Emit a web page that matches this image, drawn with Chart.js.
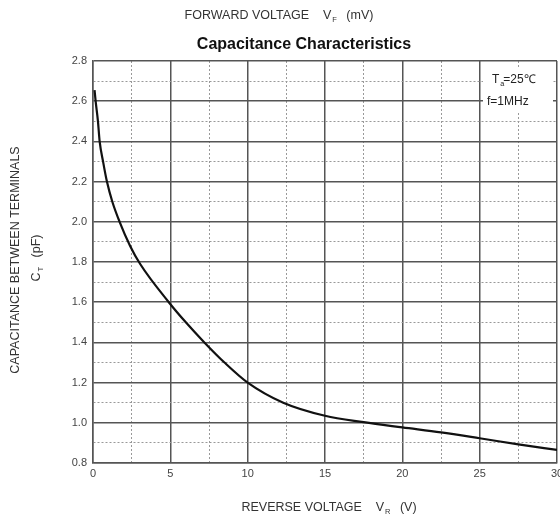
<!DOCTYPE html>
<html>
<head>
<meta charset="utf-8">
<script src="https://cdn.jsdelivr.net/npm/chart.js@4/dist/chart.umd.min.js"></script>
<style>
  html, body { margin: 0; padding: 0; background: #fff; }
  #wrap { width: 560px; height: 523px; position: relative; }
</style>
</head>
<body>
<div id="wrap"><canvas id="chart"></canvas></div>
<script>
// reverse voltage (V) vs capacitance (pF)
const reverseVoltage = [0.1, 0.17, 0.32, 0.43, 0.65, 0.9, 1.25, 1.72, 2.4, 3.05, 4.9, 6.0, 7.2, 8.5, 10, 12.3, 15, 17.5, 20, 22.5, 25, 27.5, 30];
const capacitance = [2.655, 2.6, 2.5, 2.4, 2.3, 2.2, 2.1, 2.0, 1.88, 1.79, 1.6, 1.5, 1.4, 1.3, 1.2, 1.1, 1.035, 1.003, 0.977, 0.952, 0.923, 0.893, 0.865];

const xMajorTicks = [0, 5, 10, 15, 20, 25, 30];
const yMajorTicks = [0.8, 1.0, 1.2, 1.4, 1.6, 1.8, 2.0, 2.2, 2.4, 2.6, 2.8];

const titleText = "Capacitance Characteristics";
const topAxisText = ["FORWARD VOLTAGE    V", "F", "   (mV)"];
const bottomAxisText = ["REVERSE VOLTAGE    V", "R", "   (V)"];
const yTitleText = "CAPACITANCE BETWEEN TERMINALS";
const yUnitText = ["C", "T", "   (pF)"];
const noteLines = [["T", "a", "=25\u2103"], ["f=1MHz", "", ""]];

const FONT = "'Liberation Sans', Arial, sans-serif";

const isMajor = (v, list) => list.some(m => Math.abs(m - v) < 1e-6);

// text with a small subscript in the middle
function subText(ctx, parts, x, y, size, align) {
  ctx.font = size + "px " + FONT;
  const w0 = ctx.measureText(parts[0]).width;
  ctx.font = (size * 0.6) + "px " + FONT;
  const w1 = ctx.measureText(parts[1]).width;
  ctx.font = size + "px " + FONT;
  const w2 = ctx.measureText(parts[2]).width;
  const total = w0 + w1 + w2;
  let sx = align === "center" ? x - total / 2 : x;
  ctx.textAlign = "left";
  ctx.textBaseline = "middle";
  ctx.fillText(parts[0], sx, y);
  ctx.font = (size * 0.6) + "px " + FONT;
  ctx.fillText(parts[1], sx + w0 + 1, y + size * 0.35);
  ctx.font = size + "px " + FONT;
  ctx.fillText(parts[2], sx + w0 + w1, y);
}

const labelsPlugin = {
  id: "labels",
  beforeDatasetsDraw(chart) {
    // white box behind the conditions note
    const ctx = chart.ctx;
    ctx.save();
    ctx.fillStyle = "#fff";
    ctx.fillRect(483, 69, 70, 43);
    ctx.restore();
  },
  afterDraw(chart) {
    const ctx = chart.ctx;
    ctx.save();
    ctx.fillStyle = "#333";
    subText(ctx, topAxisText, 279, 16, 12.5, "center");
    subText(ctx, bottomAxisText, 329, 508, 12.5, "center");

    ctx.fillStyle = "#111";
    ctx.font = "bold 16px " + FONT;
    ctx.textAlign = "center";
    ctx.textBaseline = "middle";
    ctx.fillText(titleText, 304, 45);

    ctx.fillStyle = "#333";
    ctx.save();
    ctx.translate(16, 260);
    ctx.rotate(-Math.PI / 2);
    ctx.font = "12.5px " + FONT;
    ctx.textAlign = "center";
    ctx.textBaseline = "middle";
    ctx.fillText(yTitleText, 0, 0);
    ctx.restore();

    ctx.save();
    ctx.translate(37, 258);
    ctx.rotate(-Math.PI / 2);
    subText(ctx, yUnitText, 0, 0, 12.5, "center");
    ctx.restore();

    ctx.fillStyle = "#222";
    subText(ctx, noteLines[0], 492, 80, 12, "left");
    subText(ctx, noteLines[1], 487, 102, 12, "left");
    ctx.restore();
  }
};

new Chart(document.getElementById("chart"), {
  type: "line",
  data: {
    datasets: [{
      data: reverseVoltage.map((v, i) => ({ x: v, y: capacitance[i] })),
      borderColor: "#111",
      borderWidth: 2.2,
      pointRadius: 0,
      fill: false,
      cubicInterpolationMode: "monotone"
    }]
  },
  options: {
    responsive: true,
    maintainAspectRatio: false,
    animation: false,
    layout: { padding: { left: 0, right: 3, top: 61, bottom: 0 } },
    plugins: { legend: { display: false }, tooltip: { enabled: false } },
    scales: {
      x: {
        type: "linear",
        min: 0,
        max: 30,
        afterFit: (s) => { s.height = 60; s.paddingLeft = 0; s.paddingRight = 0; },
        ticks: {
          stepSize: 2.5,
          autoSkip: false,
          maxRotation: 0,
          color: "#444",
          padding: 4,
          font: { family: FONT, size: 11 },
          callback: (v) => isMajor(v, xMajorTicks) ? String(v) : ""
        },
        grid: {
          drawTicks: false,
          color: (c) => c.tick && isMajor(c.tick.value, xMajorTicks) ? "#555" : "#999",
          lineWidth: (c) => c.tick && isMajor(c.tick.value, xMajorTicks) ? 1.5 : 1
        },
        border: {
          color: "#555",
          width: 1.5,
          dash: (c) => c.tick && !isMajor(c.tick.value, xMajorTicks) ? [2, 2] : []
        }
      },
      y: {
        min: 0.8,
        max: 2.8,
        afterFit: (s) => { s.width = 93; s.paddingTop = 0; s.paddingBottom = 0; },
        ticks: {
          stepSize: 0.1,
          autoSkip: false,
          color: "#444",
          padding: 6,
          font: { family: FONT, size: 11 },
          callback: (v) => isMajor(v, yMajorTicks) ? v.toFixed(1) : ""
        },
        grid: {
          drawTicks: false,
          color: (c) => c.tick && isMajor(c.tick.value, yMajorTicks) ? "#555" : "#999",
          lineWidth: (c) => c.tick && isMajor(c.tick.value, yMajorTicks) ? 1.5 : 1
        },
        border: {
          color: "#555",
          width: 1.5,
          dash: (c) => c.tick && !isMajor(c.tick.value, yMajorTicks) ? [2, 2] : []
        }
      }
    }
  },
  plugins: [labelsPlugin]
});
</script>
</body>
</html>
